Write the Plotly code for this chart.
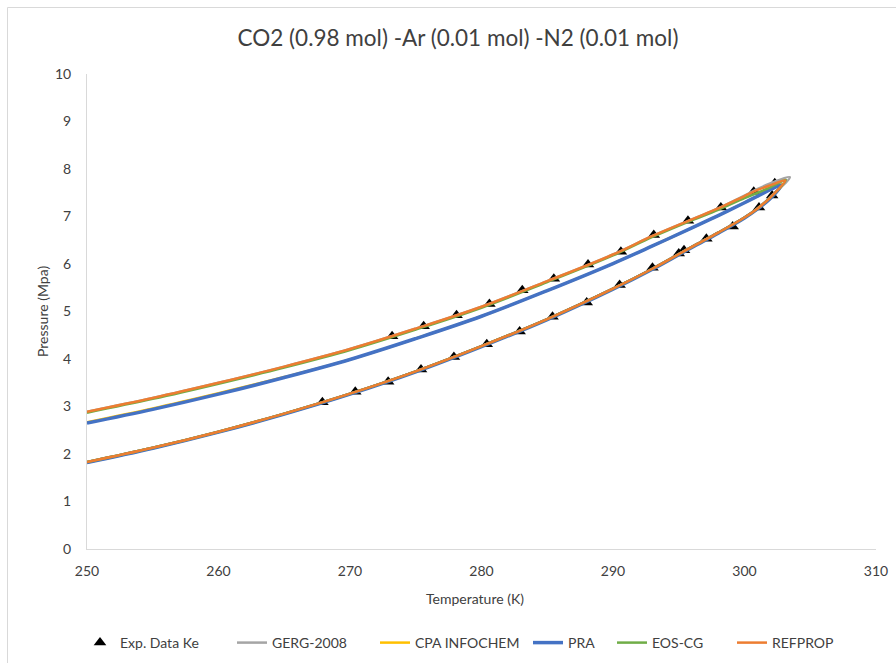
import plotly.graph_objects as go

# Experimental VLE data (Ke) for CO2 (0.98) / Ar (0.01) / N2 (0.01)
exp_t = [267.9, 270.4, 272.9, 275.4, 277.9, 280.4, 282.9, 285.4, 288.0, 290.5,
         293.0, 295.0, 295.4, 297.1, 299.1, 301.1, 302.1,
         273.2, 275.6, 278.1, 280.6, 283.1, 285.5, 288.1, 290.6, 293.1, 295.7,
         298.2, 300.7, 302.3]
exp_p = [3.09, 3.31, 3.52, 3.78, 4.04, 4.31, 4.58, 4.89, 5.19, 5.56,
         5.92, 6.22, 6.29, 6.53, 6.79, 7.19, 7.44,
         4.48, 4.69, 4.92, 5.16, 5.45, 5.69, 5.99, 6.26, 6.61, 6.91,
         7.19, 7.52, 7.70]

# Temperature grid shared by the model phase envelopes (K)
temps = [250, 255, 260, 265, 270, 275, 280, 285, 290, 293, 296, 298, 300, 301, 302]

# GERG-2008
gerg_dew = [1.82, 2.12, 2.46, 2.84, 3.26, 3.74, 4.27, 4.84, 5.48, 5.90, 6.36, 6.66, 6.98, 7.17, 7.42]
gerg_bub = [2.89, 3.18, 3.50, 3.84, 4.21, 4.64, 5.10, 5.64, 6.20, 6.59, 6.94, 7.17, 7.44, 7.58, 7.70]
gerg_crit = (303.45, 7.83)

# CPA INFOCHEM
cpa_dew = [1.83, 2.13, 2.47, 2.85, 3.27, 3.74, 4.27, 4.84, 5.48, 5.90, 6.36, 6.66, 6.98, 7.17, 7.40]
cpa_bub = [2.67, 2.96, 3.28, 3.62, 3.99, 4.43, 4.90, 5.44, 6.01, 6.38, 6.76, 7.02, 7.29, 7.43, 7.57]
cpa_crit = (302.9, 7.68)

# PRA
pra_dew = [1.82, 2.12, 2.46, 2.84, 3.26, 3.73, 4.26, 4.83, 5.47, 5.89, 6.35, 6.65, 6.97, 7.16, 7.39]
pra_bub = [2.65, 2.94, 3.26, 3.61, 3.99, 4.43, 4.90, 5.44, 6.01, 6.38, 6.76, 7.02, 7.29, 7.43, 7.57]
pra_crit = (302.8, 7.66)

# EOS-CG
eoscg_dew = [1.83, 2.13, 2.47, 2.85, 3.27, 3.74, 4.27, 4.84, 5.48, 5.90, 6.36, 6.66, 6.98, 7.17, 7.41]
eoscg_bub = [2.87, 3.16, 3.48, 3.82, 4.19, 4.62, 5.08, 5.62, 6.18, 6.57, 6.92, 7.14, 7.39, 7.50, 7.62]
eoscg_crit = (303.15, 7.77)

# REFPROP
refprop_dew = [1.83, 2.13, 2.47, 2.85, 3.27, 3.74, 4.27, 4.84, 5.48, 5.90, 6.36, 6.66, 6.98, 7.17, 7.41]
refprop_bub = [2.89, 3.18, 3.50, 3.84, 4.21, 4.64, 5.10, 5.64, 6.20, 6.59, 6.94, 7.17, 7.43, 7.56, 7.66]
refprop_crit = (303.1, 7.76)

x_ticks = [250, 260, 270, 280, 290, 300, 310]
y_ticks = [0, 1, 2, 3, 4, 5, 6, 7, 8, 9, 10]

TEXT = "#404040"
FONT = "Lato"

# Plot-area geometry (px) used to place the per-series legend entries
PLOT_L, PLOT_R, PLOT_T, PLOT_B = 87, 876, 74, 549
W, H = 896, 663


def px_x(px):
    return (px - PLOT_L) / (PLOT_R - PLOT_L)


def px_y(py):
    return (PLOT_B - py) / (PLOT_B - PLOT_T)


def envelope(dew, bub, crit):
    """Dew branch up to the critical point, then the bubble branch back down."""
    x = list(temps) + [crit[0]] + list(temps)[::-1]
    y = list(dew) + [crit[1]] + list(bub)[::-1]
    return x, y


fig = go.Figure()

# each series gets its own legend box so the entries can be spaced freely
legend_left_px = [80, 232, 375, 528, 612, 732]

fig.add_trace(go.Scatter(
    x=exp_t, y=exp_p, mode="markers", name="Exp. Data Ke", legend="legend",
    marker=dict(symbol="triangle-up", size=11, color="black"),
))

models = [
    ("GERG-2008", gerg_dew, gerg_bub, gerg_crit, "#A5A5A5", 2.5),
    ("CPA INFOCHEM", cpa_dew, cpa_bub, cpa_crit, "#FFC000", 2.5),
    ("PRA", pra_dew, pra_bub, pra_crit, "#4472C4", 3.5),
    ("EOS-CG", eoscg_dew, eoscg_bub, eoscg_crit, "#70AD47", 2.5),
    ("REFPROP", refprop_dew, refprop_bub, refprop_crit, "#ED7D31", 2.5),
]
for i, (name, dew, bub, crit, color, width) in enumerate(models, start=2):
    x, y = envelope(dew, bub, crit)
    fig.add_trace(go.Scatter(
        x=x, y=y, mode="lines", name=name, legend=f"legend{i}",
        line=dict(color=color, width=width, shape="spline", smoothing=1.0),
    ))

legend_y = px_y(643)
legend_style = dict(
    orientation="h", xanchor="left", yanchor="middle", y=legend_y,
    font=dict(family=FONT, size=14, color=TEXT),
    bgcolor="rgba(0,0,0,0)", itemwidth=30,
)
legends = {}
for i, left in enumerate(legend_left_px, start=1):
    key = "legend" if i == 1 else f"legend{i}"
    legends[key] = dict(x=px_x(left), **legend_style)

axis_common = dict(
    showgrid=False, zeroline=False, showline=True,
    linecolor="#D9D9D9", linewidth=1, ticks="", automargin=False,
    tickfont=dict(family=FONT, size=14, color=TEXT),
)
fig.update_xaxes(range=[250, 310], tickvals=x_ticks, ticklabelstandoff=9, **axis_common)
fig.update_yaxes(range=[0, 10], tickvals=y_ticks, ticklabelstandoff=12, **axis_common)

fig.update_layout(
    width=W, height=H,
    margin=dict(l=PLOT_L, r=W - PLOT_R, t=PLOT_T, b=H - PLOT_B, autoexpand=False),
    paper_bgcolor="white", plot_bgcolor="white",
    font=dict(family=FONT, color=TEXT),
    title=dict(
        text="CO2 (0.98 mol) -Ar (0.01 mol) -N2 (0.01 mol)",
        font=dict(family=FONT, size=22.5, color=TEXT),
        x=458 / W, xref="container", xanchor="center",
        y=1 - 38 / H, yref="container", yanchor="middle",
    ),
    showlegend=True,
    annotations=[
        dict(text="Temperature (K)", x=px_x(475), y=px_y(598), xref="paper", yref="paper",
             showarrow=False, xanchor="center", yanchor="middle",
             font=dict(family=FONT, size=14, color=TEXT)),
        dict(text="Pressure (Mpa)", x=px_x(42), y=px_y(312), xref="paper", yref="paper",
             showarrow=False, xanchor="center", yanchor="middle", textangle=-90,
             font=dict(family=FONT, size=14, color=TEXT)),
    ],
    shapes=[
        dict(type="line", xref="paper", yref="paper",
             x0=px_x(7.5), x1=px_x(W + 5), y0=px_y(7.5), y1=px_y(7.5),
             line=dict(color="#D9D9D9", width=1)),
        dict(type="line", xref="paper", yref="paper",
             x0=px_x(7.5), x1=px_x(7.5), y0=px_y(7.5), y1=px_y(H + 5),
             line=dict(color="#D9D9D9", width=1)),
    ],
    **legends,
)

fig.write_html("out.html")
